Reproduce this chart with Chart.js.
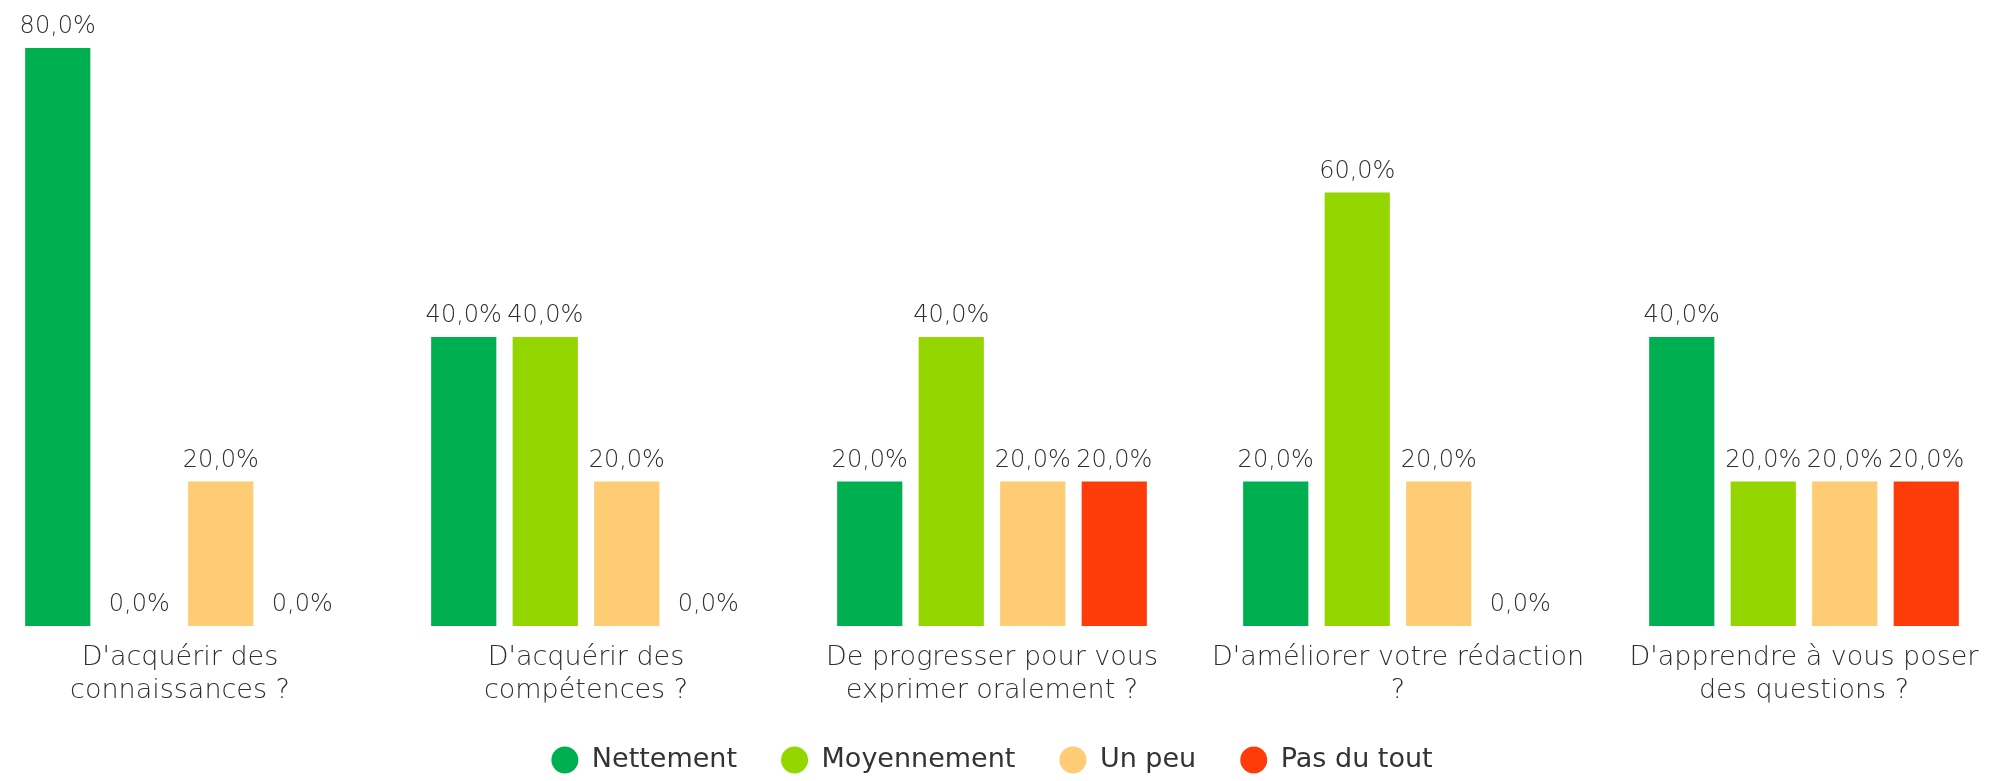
<!DOCTYPE html>
<html>
<head>
<meta charset="utf-8">
<script src="https://cdn.jsdelivr.net/npm/chart.js@4/dist/chart.umd.min.js"></script>
<style>
  html, body { margin: 0; padding: 0; background: #ffffff; }
  #wrap { width: 1990px; height: 781px; position: relative; }
</style>
</head>
<body>
<div id="wrap"><canvas id="c"></canvas></div>
<script>
const categories = [
  ["D'acquérir des", "connaissances ?"],
  ["D'acquérir des", "compétences ?"],
  ["De progresser pour vous", "exprimer oralement ?"],
  ["D'améliorer votre rédaction", "?"],
  ["D'apprendre à vous poser", "des questions ?"]
];
const seriesNames = ["Nettement", "Moyennement", "Un peu", "Pas du tout"];
const nettement   = [80, 40, 20, 20, 40];
const moyennement = [0, 40, 40, 60, 20];
const unPeu       = [20, 20, 20, 20, 20];
const pasDuTout   = [0, 0, 20, 0, 20];
const seriesColors = ["#00AF50", "#94D600", "#FDCC75", "#FD3C0A"];

const FONT = "'DejaVu Sans', sans-serif";

const dataLabels = {
  id: 'dataLabels',
  afterDatasetsDraw(chart) {
    const ctx = chart.ctx;
    ctx.save();
    ctx.font = "300 24px " + FONT;
    ctx.fillStyle = "#2e2e2e";
    ctx.textAlign = "center";
    ctx.textBaseline = "alphabetic";
    chart.data.datasets.forEach((ds, i) => {
      const meta = chart.getDatasetMeta(i);
      meta.data.forEach((bar, j) => {
        const v = ds.data[j];
        const txt = v.toFixed(1).replace('.', ',') + '%';
        ctx.fillText(txt, bar.x, bar.y - 15);
      });
    });
    ctx.restore();
  }
};

const allSeries = [nettement, moyennement, unPeu, pasDuTout];

new Chart(document.getElementById('c'), {
  type: 'bar',
  data: {
    labels: categories,
    datasets: allSeries.map((d, i) => ({
      label: seriesNames[i],
      data: d,
      backgroundColor: seriesColors[i],
      borderWidth: 0,
      categoryPercentage: 0.803,
      barPercentage: 0.8,
      clip: false
    }))
  },
  options: {
    responsive: true,
    maintainAspectRatio: false,
    animation: false,
    layout: { padding: { top: 48, left: 180, right: 186, bottom: -2.5 } },
    scales: {
      x: {
        offset: false,
        grid: { display: false, drawTicks: false },
        border: { display: false },
        ticks: {
          color: "#2e2e2e",
          font: { family: FONT, size: 27, weight: 300, lineHeight: 1.22 },
          padding: 16,
          maxRotation: 0,
          minRotation: 0,
          autoSkip: false
        },
        afterFit(scale) {
          scale.height = 76.5;
          scale.paddingLeft = 0;
          scale.paddingRight = 0;
        }
      },
      y: {
        display: false,
        min: 0,
        max: 80
      }
    },
    plugins: {
      legend: {
        position: 'bottom',
        labels: {
          usePointStyle: true,
          pointStyle: 'circle',
          pointStyleWidth: 27,
          boxHeight: 19,
          padding: 44,
          color: "#333333",
          font: { family: FONT, size: 27 }
        }
      },
      tooltip: { enabled: false }
    }
  },
  plugins: [dataLabels]
});
</script>
</body>
</html>
